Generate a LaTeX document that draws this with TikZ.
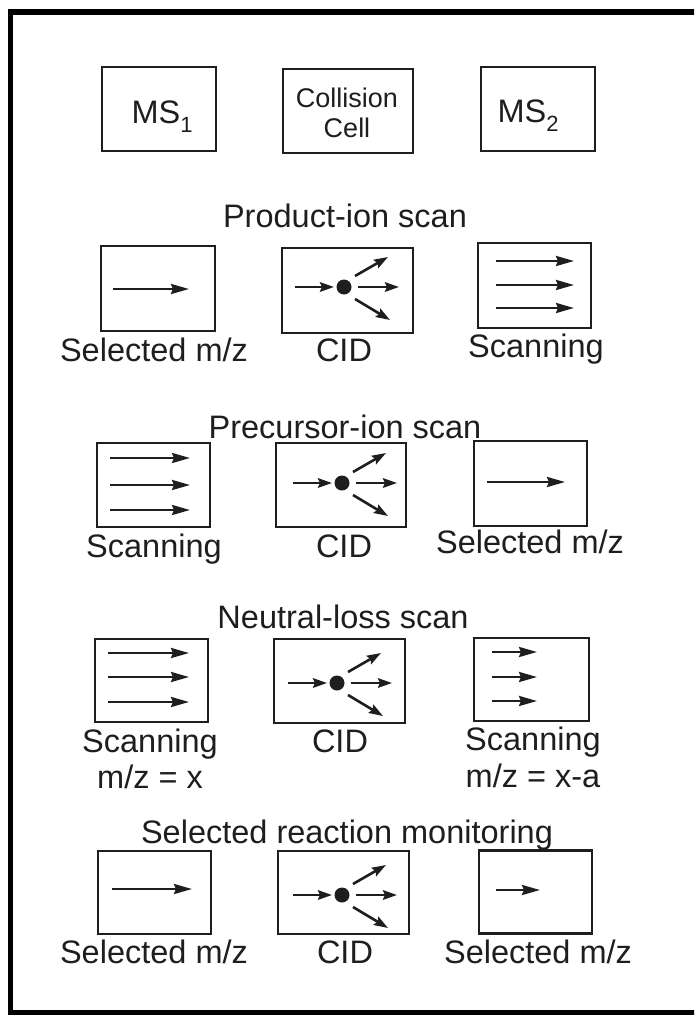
\documentclass[tikz,border=0pt]{standalone}
\usepackage{fontspec}
\setmainfont{Liberation Sans}
\usetikzlibrary{arrows.meta}
\definecolor{ink}{HTML}{1E1E1E}
\tikzset{
  box/.style={draw=ink, line width=2.4pt, inner sep=0pt},
  lbl/.style={font=\fontsize{32.5}{39}\selectfont, text=ink, anchor=base, inner sep=0pt},
  smalllbl/.style={font=\fontsize{27}{32}\selectfont, text=ink, anchor=base, inner sep=0pt},
  arr/.style={draw=ink, line width=2.6pt, -{Stealth[length=18pt,width=10pt,inset=2pt]}},
  sarr/.style={draw=ink, line width=2.6pt, -{Stealth[length=14pt,width=9.5pt,inset=2pt]}},
  cidpic/.pic={
    \fill[ink] (0,0) circle[radius=7.5pt];
    \draw[sarr] (-49,0) -- (-10,0);
    \draw[sarr] (14,0) -- (55,0);
    \draw[sarr] (11,-11) -- (44,-30);
    \draw[sarr] (11,12) -- (46,33);
  }
}
\begin{document}
\begin{tikzpicture}[x=1pt,y={(0pt,-1pt)}]
\useasboundingbox (0,0) rectangle (694,1015);
\clip (0,0) rectangle (694,1015);
% outer frame (right side lies beyond the picture)
\draw[line width=5.5pt, black] (720,12) -- (10.5,12) -- (10.5,1013) -- (720,1013);

% top row
\node[box, minimum width=114pt, minimum height=84pt] (ms1) at (159,109) {};
\node[box, minimum width=130pt, minimum height=84pt] (cc) at (348,111) {};
\node[box, minimum width=114pt, minimum height=84pt] (ms2) at (538,109) {};
\node[lbl] (ms1t) at (162,123) {MS\raisebox{-9pt}{\fontsize{22}{22}\selectfont 1}};
\node[smalllbl] (cct1) at (347,107) {Collision};
\node[smalllbl] (cct2) at (347,137) {Cell};
\node[lbl] (ms2t) at (528,122) {MS\raisebox{-9pt}{\fontsize{22}{22}\selectfont 2}};

% Product-ion scan
\node[lbl] (t1) at (345,227) {Product-ion scan};
\node[box, minimum width=114pt, minimum height=85pt] (b11) at (158,288.5) {};
\node[box, minimum width=131pt, minimum height=85pt] (b12) at (347.5,290.5) {};
\node[box, minimum width=113pt, minimum height=85pt] (b13) at (534.5,285.5) {};
\draw[arr] (113,289) -- (189,289);
\pic at (344,287) {cidpic};
\draw[arr] (496,261) -- (574,261);
\draw[arr] (496,285) -- (574,285);
\draw[arr] (496,308) -- (574,308);
\node[lbl] (l11) at (154,361) {Selected m/z};
\node[lbl] (l12) at (344,361) {CID};
\node[lbl] (l13) at (536,357) {Scanning};

% Precursor-ion scan
\node[lbl] (t2) at (345,438) {Precursor-ion scan};
\node[box, minimum width=113pt, minimum height=84pt] (b21) at (153.5,485) {};
\node[box, minimum width=130pt, minimum height=84pt] (b22) at (341,485) {};
\node[box, minimum width=113pt, minimum height=85pt] (b23) at (530.5,483.5) {};
\draw[arr] (110,458) -- (190,458);
\draw[arr] (110,485) -- (190,485);
\draw[arr] (110,510) -- (190,510);
\pic at (342,483) {cidpic};
\draw[arr] (487,482) -- (565,482);
\node[lbl] (l21) at (154,557) {Scanning};
\node[lbl] (l22) at (344,557) {CID};
\node[lbl] (l23) at (530,553) {Selected m/z};

% Neutral-loss scan
\node[lbl] (t3) at (343,628) {Neutral-loss scan};
\node[box, minimum width=113pt, minimum height=83pt] (b31) at (151.5,680.5) {};
\node[box, minimum width=131pt, minimum height=84pt] (b32) at (339.5,681) {};
\node[box, minimum width=115pt, minimum height=83pt] (b33) at (531.5,679.5) {};
\draw[arr] (108,653) -- (189,653);
\draw[arr] (108,677) -- (189,677);
\draw[arr] (108,702) -- (189,702);
\pic at (337,683) {cidpic};
\draw[arr] (492,652) -- (537,652);
\draw[arr] (492,677) -- (537,677);
\draw[arr] (492,701) -- (537,701);
\node[lbl] (l31) at (150,752) {Scanning};
\node[lbl] (l31b) at (150,788) {m/z = x};
\node[lbl] (l32) at (340,752) {CID};
\node[lbl] (l33) at (533,750) {Scanning};
\node[lbl] (l33b) at (533,787) {m/z = x-a};

% Selected reaction monitoring
\node[lbl] (t4) at (347,843) {Selected reaction monitoring};
\node[box, minimum width=113pt, minimum height=83pt] (b41) at (154.5,892.5) {};
\node[box, minimum width=131pt, minimum height=83pt] (b42) at (343.5,892.5) {};
\node[box, minimum width=113pt, minimum height=83pt] (b43) at (535.5,892) {};
\draw[arr] (112,889) -- (192,889);
\pic at (342,895) {cidpic};
\draw[arr] (496,890) -- (540,890);
\node[lbl] (l41) at (154,963) {Selected m/z};
\node[lbl] (l42) at (345,963) {CID};
\node[lbl] (l43) at (538,963) {Selected m/z};
\end{tikzpicture}
\end{document}
